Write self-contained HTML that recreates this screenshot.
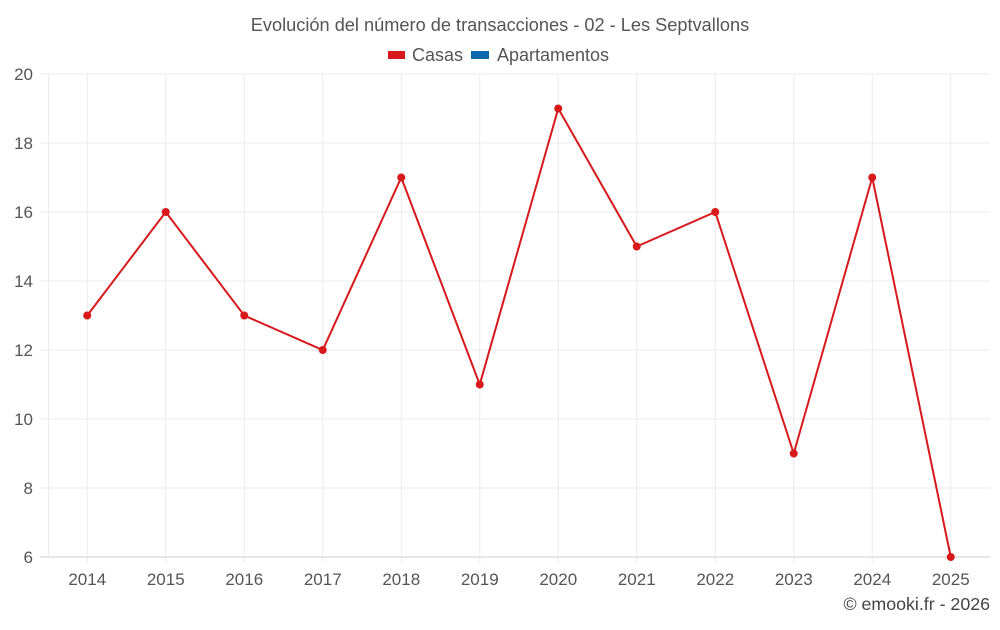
<!DOCTYPE html>
<html><head><meta charset="utf-8"><style>
body{margin:0;background:#fff;font-family:"Liberation Sans",sans-serif;}
svg text{font-family:"Liberation Sans",sans-serif;}
</style></head><body>
<svg id="c" width="1000" height="625" xmlns="http://www.w3.org/2000/svg">
<text x="500" y="31" text-anchor="middle" font-size="18.2" fill="#555">Evolución del número de transacciones - 02 - Les Septvallons</text>
<g>
<g><rect x="388" y="51" width="17" height="8" fill="#d7191c"/><text x="412" y="61" font-size="18" fill="#555">Casas</text></g>
<g><rect x="471" y="51" width="18" height="8" fill="#0868ac"/><text x="497" y="61" font-size="18" fill="#555">Apartamentos</text></g>
</g>
<g id="grid"></g><g id="axes"></g><g id="series"></g>
<text x="990" y="610" text-anchor="end" font-size="17.8" fill="#444">© emooki.fr - 2026</text>
</svg>
<script>
const categories=["2014","2015","2016","2017","2018","2019","2020","2021","2022","2023","2024","2025"];
const casas=[13,16,13,12,17,11,19,15,16,9,17,6];
const yTicks=[6,8,10,12,14,16,18,20];
const L=48,R=990,T=74,B=557,yMin=6,yMax=20;
const bw=(R-L)/categories.length;
const x=i=>L+bw*(i+0.5);
const y=v=>B-(v-yMin)/(yMax-yMin)*(B-T);
const ns="http://www.w3.org/2000/svg";
function mk(t,a,p){const e=document.createElementNS(ns,t);for(const k in a)e.setAttribute(k,a[k]);p.appendChild(e);return e;}
const g=document.getElementById('grid'),ax=document.getElementById('axes'),s=document.getElementById('series');
yTicks.forEach(v=>{
const l=mk('line',{x1:40,x2:R,y1:y(v),y2:y(v),stroke:v===yMin?'#ccc':'#ebebeb','stroke-width':1},g);


const t=mk('text',{x:33,y:y(v)+6,'text-anchor':'end','font-size':17,fill:'#555'},ax);t.textContent=v;


});
const l0=mk('line',{x1:L+0.5,x2:L+0.5,y1:T,y2:B,stroke:'#ebebeb'},g);


categories.forEach((c,i)=>{
const l=mk('line',{x1:x(i),x2:x(i),y1:T,y2:B+6,stroke:'#ebebeb'},g);


const t=mk('text',{x:x(i),y:585,'text-anchor':'middle','font-size':17,fill:'#555'},ax);t.textContent=c;


});
const p=mk('polyline',{points:casas.map((v,i)=>x(i)+','+y(v)).join(' '),fill:'none',stroke:'#d7191c','stroke-width':2},s);


casas.forEach((v,i)=>{
const c=mk('circle',{cx:x(i),cy:y(v),r:4,fill:'#d7191c'},s);


});
</script>
</body></html>
